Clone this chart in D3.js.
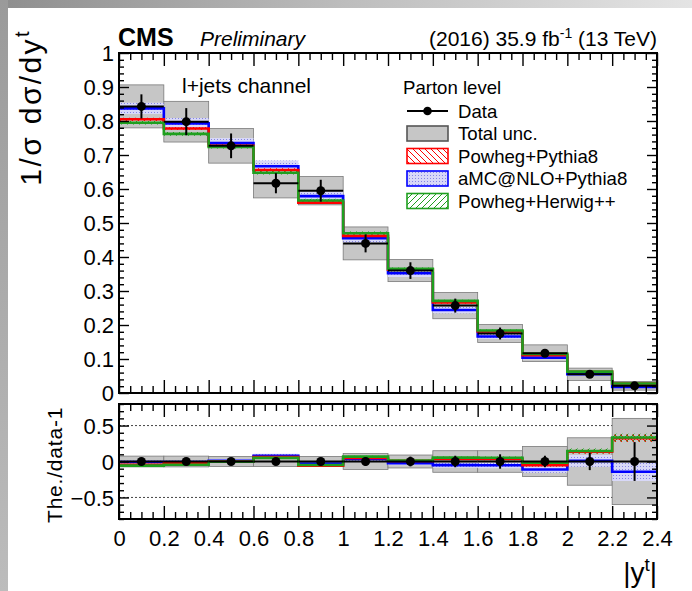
<!DOCTYPE html>
<html>
<head>
<meta charset="utf-8">
<script src="https://cdn.jsdelivr.net/npm/d3@7"></script>
<style>
  html, body { margin: 0; padding: 0; background: #fff; }
  svg { display: block; font-family: "Liberation Sans", Arial, Helvetica, sans-serif; }
</style>
</head>
<body>
<svg id="chart" width="692" height="591"></svg>
<script>
// ---- measured distribution: normalised |y_t| at parton level ----
const binEdges = [0, 0.2, 0.4, 0.6, 0.8, 1.0, 1.2, 1.4, 1.6, 1.8, 2.0, 2.2, 2.4];
const dataValues   = [0.843, 0.798, 0.727, 0.617, 0.595, 0.440, 0.360, 0.257, 0.175, 0.117, 0.055, 0.021];
const dataStatRel  = [0.042, 0.050, 0.050, 0.048, 0.054, 0.060, 0.068, 0.080, 0.100, 0.080, 0.120, 0.270];
const totalUncRel  = [0.075, 0.075, 0.070, 0.070, 0.070, 0.110, 0.090, 0.150, 0.150, 0.210, 0.330, 0.600];

// ---- predictions and their MC statistical uncertainty (relative) ----
const powhegPythia     = [0.805, 0.778, 0.727, 0.656, 0.560, 0.462, 0.363, 0.266, 0.181, 0.111, 0.0625, 0.0278];
const powhegPythiaUnc  = [0.006, 0.006, 0.006, 0.008, 0.008, 0.010, 0.010, 0.012, 0.015, 0.020, 0.025, 0.040];
const amcPythia        = [0.837, 0.793, 0.735, 0.667, 0.579, 0.455, 0.352, 0.244, 0.166, 0.104, 0.0555, 0.018];
const amcPythiaUnc     = [0.020, 0.020, 0.020, 0.025, 0.025, 0.030, 0.030, 0.040, 0.045, 0.050, 0.080, 0.150];
const powhegHerwig     = [0.795, 0.762, 0.724, 0.648, 0.566, 0.470, 0.365, 0.271, 0.184, 0.115, 0.063, 0.028];
const powhegHerwigUnc  = [0.007, 0.007, 0.007, 0.008, 0.009, 0.010, 0.011, 0.013, 0.016, 0.020, 0.030, 0.040];

// ---- axis ticks ----
const xTickValues      = [0, 0.2, 0.4, 0.6, 0.8, 1, 1.2, 1.4, 1.6, 1.8, 2, 2.2, 2.4];
const mainYTickValues  = [0, 0.1, 0.2, 0.3, 0.4, 0.5, 0.6, 0.7, 0.8, 0.9, 1];
const ratioYTickValues = [-0.5, 0, 0.5];

const legendLabels = ["Data", "Total unc.", "Powheg+Pythia8", "aMC@NLO+Pythia8", "Powheg+Herwig++"];

const models = [
  { name: legendLabels[3], values: amcPythia,    unc: amcPythiaUnc,    color: "#0000ff", fill: "url(#blueDots)" },
  { name: legendLabels[2], values: powhegPythia, unc: powhegPythiaUnc, color: "#ff0000", fill: "url(#redHatch)" },
  { name: legendLabels[4], values: powhegHerwig, unc: powhegHerwigUnc, color: "#1f9f1f", fill: "url(#greenHatch)" }
];

const svg = d3.select("#chart");
const W = 692, H = 591;
const FRAME_L = 119, FRAME_R = 657;
const MAIN_T = 53, MAIN_B = 393;
const RAT_T = 404, RAT_B = 519;

const x = d3.scaleLinear().domain([0, 2.4]).range([FRAME_L, FRAME_R]);
const yMain = d3.scaleLinear().domain([0, 1]).range([MAIN_B, MAIN_T]);
const yRatio = d3.scaleLinear().domain([-0.8, 0.8]).range([RAT_B, RAT_T]);

const defs = svg.append("defs");

// window-edge shading
const gTop = defs.append("linearGradient").attr("id", "edgeTop").attr("x1", 0).attr("x2", 1).attr("y1", 0).attr("y2", 0);
gTop.append("stop").attr("offset", 0).attr("stop-color", "#8e8e8e");
gTop.append("stop").attr("offset", 0.5).attr("stop-color", "#bdbdbd");
gTop.append("stop").attr("offset", 1).attr("stop-color", "#e4e4e4");
const gLeft = defs.append("linearGradient").attr("id", "edgeLeft").attr("x1", 0).attr("x2", 0).attr("y1", 0).attr("y2", 1);
gLeft.append("stop").attr("offset", 0).attr("stop-color", "#9a9a9a");
gLeft.append("stop").attr("offset", 1).attr("stop-color", "#bcbcbc");

// fill patterns for the prediction bands
const red = defs.append("pattern").attr("id", "redHatch").attr("patternUnits", "userSpaceOnUse").attr("width", 6).attr("height", 6);
red.append("path").attr("d", "M0,0 L6,6 M-1,5 L1,7 M5,-1 L7,1").attr("stroke", "#ff0000").attr("stroke-width", 1);
const green = defs.append("pattern").attr("id", "greenHatch").attr("patternUnits", "userSpaceOnUse").attr("width", 6).attr("height", 6);
green.append("path").attr("d", "M0,6 L6,0 M-1,1 L1,-1 M5,7 L7,5").attr("stroke", "#1f9f1f").attr("stroke-width", 1);
const blue = defs.append("pattern").attr("id", "blueDots").attr("patternUnits", "userSpaceOnUse").attr("width", 3).attr("height", 3);
blue.append("rect").attr("width", 3).attr("height", 3).attr("fill", "#d8d8f8");
blue.append("rect").attr("x", 1).attr("y", 1).attr("width", 1).attr("height", 1).attr("fill", "#8585e4");

defs.append("clipPath").attr("id", "clipMain").append("rect")
  .attr("x", FRAME_L).attr("y", MAIN_T).attr("width", FRAME_R - FRAME_L).attr("height", MAIN_B - MAIN_T);
defs.append("clipPath").attr("id", "clipRatio").append("rect")
  .attr("x", FRAME_L).attr("y", RAT_T).attr("width", FRAME_R - FRAME_L).attr("height", RAT_B - RAT_T);

svg.append("rect").attr("width", W).attr("height", H).attr("fill", "#ffffff");
svg.append("rect").attr("x", 0).attr("y", 0).attr("width", W).attr("height", 8).attr("fill", "url(#edgeTop)");
svg.append("rect").attr("x", 0).attr("y", 0).attr("width", 8).attr("height", H).attr("fill", "url(#edgeLeft)");

const bins = dataValues.map((v, i) => ({ i, lo: binEdges[i], hi: binEdges[i + 1], v }));

// step helpers: one point per bin edge, the last bin value repeated at the right edge
function stepPoints(fnLo, fnHi) {
  const pts = bins.map(b => ({ x: b.lo, lo: fnLo(b.i), hi: fnHi(b.i) }));
  const last = bins[bins.length - 1];
  pts.push({ x: last.hi, lo: fnLo(last.i), hi: fnHi(last.i) });
  return pts;
}
function drawPanel(g, yScale, toPanel) {
  // total uncertainty boxes
  g.selectAll("rect.unc").data(bins).join("rect").attr("class", "unc")
    .attr("x", b => x(b.lo)).attr("width", b => x(b.hi) - x(b.lo))
    .attr("y", b => yScale(toPanel(b.v * (1 + totalUncRel[b.i]), b.i)))
    .attr("height", b => yScale(toPanel(b.v * (1 - totalUncRel[b.i]), b.i)) - yScale(toPanel(b.v * (1 + totalUncRel[b.i]), b.i)))
    .attr("fill", "#c6c6c6").attr("stroke", "#7a7a7a").attr("stroke-width", 0.8);

  const area = d3.area().x(d => x(d.x)).y0(d => yScale(d.lo)).y1(d => yScale(d.hi)).curve(d3.curveStepAfter);
  const line = d3.line().x(d => x(d.x)).y(d => yScale(d.lo)).curve(d3.curveStepAfter);

  models.forEach(m => {
    g.append("path")
      .attr("d", area(stepPoints(i => toPanel(m.values[i] * (1 - m.unc[i]), i), i => toPanel(m.values[i] * (1 + m.unc[i]), i))))
      .attr("fill", m.fill).attr("stroke", "none");
  });
  models.forEach(m => {
    g.append("path")
      .attr("d", line(stepPoints(i => toPanel(m.values[i], i), i => toPanel(m.values[i], i))))
      .attr("fill", "none").attr("stroke", m.color).attr("stroke-width", 2.6);
  });

  // data: bin-width bars, statistical error bars, markers
  g.selectAll("line.hbar").data(bins).join("line").attr("class", "hbar")
    .attr("x1", b => x(b.lo)).attr("x2", b => x(b.hi))
    .attr("y1", b => yScale(toPanel(b.v, b.i))).attr("y2", b => yScale(toPanel(b.v, b.i)))
    .attr("stroke", "#000").attr("stroke-width", 2);
  g.selectAll("line.vbar").data(bins).join("line").attr("class", "vbar")
    .attr("x1", b => x((b.lo + b.hi) / 2)).attr("x2", b => x((b.lo + b.hi) / 2))
    .attr("y1", b => yScale(toPanel(b.v * (1 + dataStatRel[b.i]), b.i)))
    .attr("y2", b => yScale(toPanel(b.v * (1 - dataStatRel[b.i]), b.i)))
    .attr("stroke", "#000").attr("stroke-width", 2);
  g.selectAll("circle.pt").data(bins).join("circle").attr("class", "pt")
    .attr("cx", b => x((b.lo + b.hi) / 2)).attr("cy", b => yScale(toPanel(b.v, b.i)))
    .attr("r", 4.5).attr("fill", "#000");
}

// ---- main panel ----
const gMain = svg.append("g").attr("clip-path", "url(#clipMain)");
drawPanel(gMain, yMain, v => v);

// ---- ratio panel ----
const gRatio = svg.append("g").attr("clip-path", "url(#clipRatio)");
gRatio.selectAll("line.ref").data([-0.5, 0.5]).join("line").attr("class", "ref")
  .attr("x1", FRAME_L).attr("x2", FRAME_R).attr("y1", d => yRatio(d)).attr("y2", d => yRatio(d))
  .attr("stroke", "#444").attr("stroke-width", 1).attr("stroke-dasharray", "2,2");
drawPanel(gRatio, yRatio, (v, i) => v / dataValues[i] - 1);

// ---- ticks (ROOT style: on all four sides, pointing inwards) ----
const xMinor = d3.range(0, 2.4001, 0.05).filter(v => Math.abs(v / 0.2 - Math.round(v / 0.2)) > 1e-6);
const yMainMinor = d3.range(0, 1.0001, 0.02).filter(v => Math.abs(v / 0.1 - Math.round(v / 0.1)) > 1e-6);
const yRatioMinor = d3.range(-0.8, 0.8001, 0.1).filter(v => Math.abs(v / 0.5 - Math.round(v / 0.5)) > 1e-6);

function tickSet(translate, axisFn, scale, values, size) {
  const g = svg.append("g").attr("transform", translate)
    .call(axisFn(scale).tickValues(values).tickSize(size).tickFormat(""));
  g.select(".domain").remove();
  g.selectAll("line").attr("stroke", "#000").attr("stroke-width", 1.4);
}
[[MAIN_B, MAIN_T], [RAT_B, RAT_T]].forEach(([b, t]) => {
  const big = 13, small = 7;
  tickSet(`translate(0,${b})`, d3.axisBottom, x, xTickValues, -big);
  tickSet(`translate(0,${b})`, d3.axisBottom, x, xMinor, -small);
  tickSet(`translate(0,${t})`, d3.axisTop, x, xTickValues, -big);
  tickSet(`translate(0,${t})`, d3.axisTop, x, xMinor, -small);
});
tickSet(`translate(${FRAME_L},0)`, d3.axisLeft, yMain, mainYTickValues, -10);
tickSet(`translate(${FRAME_L},0)`, d3.axisLeft, yMain, yMainMinor, -5);
tickSet(`translate(${FRAME_R},0)`, d3.axisRight, yMain, mainYTickValues, -10);
tickSet(`translate(${FRAME_R},0)`, d3.axisRight, yMain, yMainMinor, -5);
tickSet(`translate(${FRAME_L},0)`, d3.axisLeft, yRatio, ratioYTickValues, -10);
tickSet(`translate(${FRAME_L},0)`, d3.axisLeft, yRatio, yRatioMinor, -5);
tickSet(`translate(${FRAME_R},0)`, d3.axisRight, yRatio, ratioYTickValues, -10);
tickSet(`translate(${FRAME_R},0)`, d3.axisRight, yRatio, yRatioMinor, -5);

// frames
[[MAIN_T, MAIN_B], [RAT_T, RAT_B]].forEach(([t, b]) => {
  svg.append("rect").attr("x", FRAME_L).attr("y", t).attr("width", FRAME_R - FRAME_L).attr("height", b - t)
    .attr("fill", "none").attr("stroke", "#000").attr("stroke-width", 2);
});

// ---- tick labels ----
const fmt = d3.format("~g");
const LABEL_SIZE = 22;
function labelAxis(translate, axisFn, scale, values, textAttrs) {
  const g = svg.append("g").attr("transform", translate)
    .call(axisFn(scale).tickValues(values).tickSize(0).tickFormat(fmt));
  g.select(".domain").remove();
  g.selectAll("line").remove();
  g.selectAll("text").attr("font-size", LABEL_SIZE).attr("font-family", null).attr("fill", "#000");
  textAttrs(g.selectAll("text"));
}
labelAxis(`translate(${FRAME_L},0)`, d3.axisLeft, yMain, mainYTickValues,
  t => t.attr("x", -5).attr("dy", "0.35em"));
labelAxis(`translate(${FRAME_L},0)`, d3.axisLeft, yRatio, ratioYTickValues,
  t => t.attr("x", -5).attr("dy", "0.35em"));
labelAxis(`translate(0,${RAT_B})`, d3.axisBottom, x, xTickValues,
  t => t.attr("y", 27).attr("dy", 0));

// ---- axis titles ----
const yTitle = svg.append("text").attr("transform", "translate(41,29) rotate(-90)")
  .attr("text-anchor", "end").attr("font-size", 30).attr("letter-spacing", 2.4);
yTitle.append("tspan").text("1/σ dσ/dy");
yTitle.append("tspan").attr("font-size", 20).attr("dy", -12).text("t");

svg.append("text").attr("transform", "translate(62,523) rotate(-90)")
  .attr("text-anchor", "start").attr("font-size", 21).attr("letter-spacing", 0.8).text("The./data-1");

const xTitle = svg.append("text").attr("x", FRAME_R).attr("y", 582).attr("text-anchor", "end").attr("font-size", 28);
xTitle.append("tspan").text("|y");
xTitle.append("tspan").attr("font-size", 19).attr("dy", -11).text("t");
xTitle.append("tspan").attr("dy", 11).text("|");

// ---- header ----
svg.append("text").attr("x", 118).attr("y", 46).attr("font-size", 25).attr("font-weight", "bold").text("CMS");
svg.append("text").attr("x", 200).attr("y", 46).attr("font-size", 21).attr("font-style", "italic").text("Preliminary");
const lumi = svg.append("text").attr("x", FRAME_R).attr("y", 46).attr("text-anchor", "end").attr("font-size", 21);
lumi.append("tspan").text("(2016) 35.9 fb");
lumi.append("tspan").attr("font-size", 14).attr("dy", -8).text("-1");
lumi.append("tspan").attr("dy", 8).text(" (13 TeV)");

svg.append("text").attr("x", 182).attr("y", 93).attr("font-size", 21).text("l+jets channel");

// ---- legend ----
const LEG_X = 407, LEG_BOX_W = 41, LEG_BOX_H = 15, LEG_TEXT_X = 458, LEG_SIZE = 18.6;
svg.append("text").attr("x", 403).attr("y", 94).attr("font-size", LEG_SIZE).text("Parton level");
const rowY = d3.scalePoint().domain(legendLabels).range([111, 201]);
const boxStyles = {
  "Total unc.":       { fill: "#c6c6c6", stroke: "#555555" },
  "Powheg+Pythia8":   { fill: "url(#redHatch)", stroke: "#ff0000" },
  "aMC@NLO+Pythia8":  { fill: "url(#blueDots)", stroke: "#0000ff" },
  "Powheg+Herwig++":  { fill: "url(#greenHatch)", stroke: "#1f9f1f" }
};
legendLabels.forEach(lbl => {
  const cy = rowY(lbl);
  if (lbl === "Data") {
    svg.append("line").attr("x1", LEG_X).attr("x2", LEG_X + LEG_BOX_W).attr("y1", cy).attr("y2", cy)
      .attr("stroke", "#000").attr("stroke-width", 2);
    svg.append("circle").attr("cx", LEG_X + LEG_BOX_W / 2).attr("cy", cy).attr("r", 4.3).attr("fill", "#000");
  } else {
    const s = boxStyles[lbl];
    svg.append("rect").attr("x", LEG_X).attr("y", cy - LEG_BOX_H / 2).attr("width", LEG_BOX_W).attr("height", LEG_BOX_H)
      .attr("fill", s.fill).attr("stroke", s.stroke).attr("stroke-width", 1.6);
  }
  svg.append("text").attr("x", LEG_TEXT_X).attr("y", cy).attr("dy", "0.36em").attr("font-size", LEG_SIZE).text(lbl);
});
</script>
</body>
</html>
